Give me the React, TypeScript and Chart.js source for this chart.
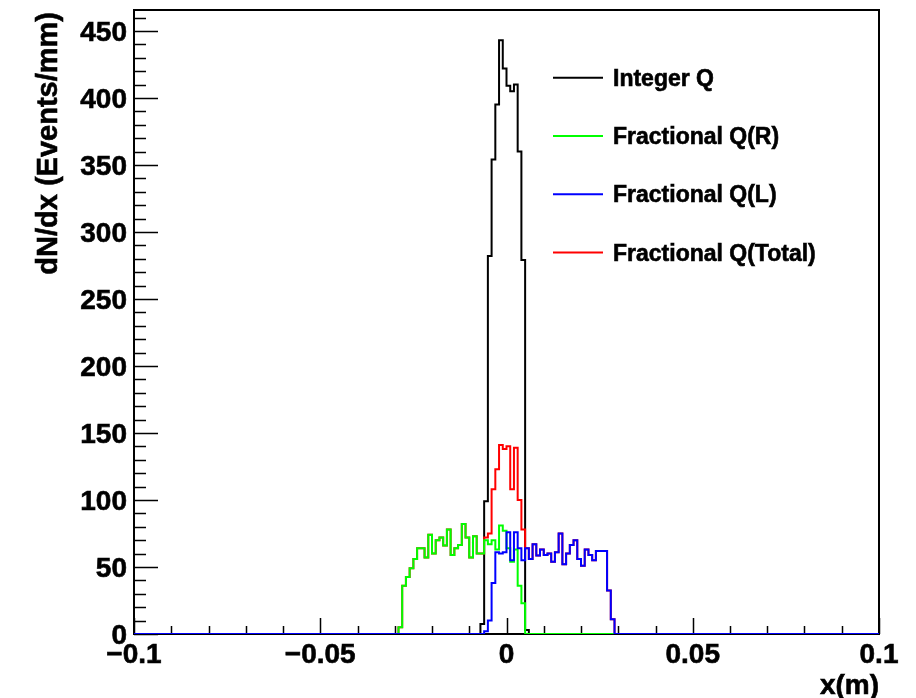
import React, { useEffect, useRef } from "react";
import { Chart, registerables } from "chart.js";

Chart.register(...registerables);

// ---- data (bin width 1 mm, values in Events/mm; start = lower edge of first bin in mm) ----
const integerQStart = -7;
const integerQ = [7.5, 99, 282, 354, 395, 443, 422, 409, 405, 410, 360, 279, 3];

const fracRStart = -29;
const fracR = [
  5, 36, 42.5, 49, 56, 64, 64, 57, 74, 60, 70, 72, 66, 78, 59, 64, 66.5, 82, 72, 57, 73, 60, 60,
  70, 67, 70, 63, 81, 77, 64, 54, 63, 36, 23,
];

const fracLStart = -6;
const fracL = [
  2, 10, 38, 61, 60, 61, 76, 55, 76, 64, 55, 64, 56, 67, 58.6, 63, 59, 60, 54, 61, 75, 52, 60,
  66.5, 70, 56, 51, 63, 59, 55, 62, 62, 62, 32.5, 11,
];

const fracTotalStart = -29;
const fracTotal = [
  5, 36, 42.5, 49, 56, 64, 64, 57, 74, 60, 70, 72, 66, 78, 59, 64, 66.5, 82, 72, 57, 73, 60, 60,
  72, 75, 108, 123, 141, 138, 140, 108, 139, 100, 78,
  64, 56, 67, 58.6, 63, 59, 60, 54, 61, 75, 52, 60, 66.5, 70, 56, 51, 63, 59, 55, 62, 62, 62, 32.5, 11,
];

const seriesNames = ["Integer Q", "Fractional Q(R)", "Fractional Q(L)", "Fractional Q(Total)"];
const seriesColors = ["#000000", "#00ff00", "#0000ff", "#ff0000"];

const X_MIN = -0.1;
const X_MAX = 0.1;
const Y_MAX = 465.6;
const BIN_MIN_MM = -100;
const BIN_MAX_MM = 100;

const xMajorTicks = [-0.1, -0.05, 0, 0.05, 0.1];
const xTickLabels = ["\u22120.1", "\u22120.05", "0", "0.05", "0.1"];
const xMinorStep = 0.01;
const yMajorTicks = [0, 50, 100, 150, 200, 250, 300, 350, 400, 450];
const yTickLabels = ["0", "50", "100", "150", "200", "250", "300", "350", "400", "450"];
const yMinorStep = 10;

const xTitle = "x(m)";
const yTitle = "dN/dx (Events/mm)";

const FONT = '"Liberation Sans", Arial, Helvetica, sans-serif';

function histPoints(start: number, values: number[]) {
  const pts: { x: number; y: number }[] = [];
  for (let n = BIN_MIN_MM; n < BIN_MAX_MM; n++) {
    const i = n - start;
    const v = i >= 0 && i < values.length ? values[i] : 0;
    pts.push({ x: n / 1000, y: v });
  }
  pts.push({ x: BIN_MAX_MM / 1000, y: 0 });
  return pts;
}

function heavyText(ctx: CanvasRenderingContext2D, t: string, x: number, y: number) {
  ctx.fillText(t, x, y);
  ctx.lineWidth = 0.6;
  ctx.strokeStyle = "#000";
  ctx.strokeText(t, x, y);
}

const rootStyle = {
  id: "rootStyle",
  beforeDatasetsDraw(chart: any) {
    const ctx = chart.ctx;
    const xs = chart.scales.x;
    const ys = chart.scales.y;
    const { left, right, top, bottom } = chart.chartArea;
    ctx.save();
    ctx.strokeStyle = "#000";
    ctx.lineWidth = 1.5;
    ctx.beginPath();
    for (let v = 0; v <= Y_MAX + 1e-9; v += yMinorStep) {
      const p = Math.round(ys.getPixelForValue(v)) + 0.5;
      const major = yMajorTicks.includes(v);
      ctx.moveTo(left, p);
      ctx.lineTo(left + (major ? 24 : 12), p);
    }
    for (let k = 0; k <= Math.round((X_MAX - X_MIN) / xMinorStep); k++) {
      const v = X_MIN + k * xMinorStep;
      const p = Math.round(xs.getPixelForValue(v)) + 0.5;
      const major = xMajorTicks.some((t) => Math.abs(t - v) < 1e-9);
      ctx.moveTo(p, bottom);
      ctx.lineTo(p, bottom - (major ? 16 : 8));
    }
    ctx.stroke();
    ctx.lineWidth = 2;
    ctx.strokeRect(left, top, right - left, bottom - top);
    ctx.restore();
  },
  afterDatasetsDraw(chart: any) {
    const ctx = chart.ctx;
    const xs = chart.scales.x;
    const ys = chart.scales.y;
    const { left, right, top, bottom } = chart.chartArea;
    ctx.save();
    ctx.fillStyle = "#000";
    ctx.font = `bold 28px ${FONT}`;
    ctx.textBaseline = "alphabetic";
    ctx.textAlign = "right";
    yMajorTicks.forEach((v, i) => {
      heavyText(ctx, yTickLabels[i], left - 7, ys.getPixelForValue(v) + 10);
    });
    ctx.textAlign = "center";
    xMajorTicks.forEach((v, i) => {
      heavyText(ctx, xTickLabels[i], xs.getPixelForValue(v), bottom + 29);
    });
    ctx.textAlign = "right";
    heavyText(ctx, xTitle, right, bottom + 60);
    ctx.save();
    ctx.font = `bold 29px ${FONT}`;
    ctx.translate(57, top + 2);
    ctx.rotate(-Math.PI / 2);
    ctx.textAlign = "right";
    heavyText(ctx, yTitle, 0, 0);
    ctx.restore();
    ctx.font = `bold 23px ${FONT}`;
    ctx.textAlign = "left";
    seriesNames.forEach((name, i) => {
      const y = 77.7 + i * 58.3;
      ctx.strokeStyle = seriesColors[i];
      ctx.lineWidth = 2;
      ctx.beginPath();
      ctx.moveTo(553, y);
      ctx.lineTo(603, y);
      ctx.stroke();
      heavyText(ctx, name, 613, y + 8);
    });
    ctx.restore();
  },
};

export default function App() {
  const ref = useRef<HTMLCanvasElement>(null);
  useEffect(() => {
    if (!ref.current) return;
    const series = [
      { start: integerQStart, values: integerQ, order: 3 },
      { start: fracRStart, values: fracR, order: 1 },
      { start: fracLStart, values: fracL, order: 0 },
      { start: fracTotalStart, values: fracTotal, order: 2 },
    ];
    const chart = new Chart(ref.current, {
      type: "line",
      data: {
        datasets: series.map((s, i) => ({
          label: seriesNames[i],
          data: histPoints(s.start, s.values),
          borderColor: seriesColors[i],
          backgroundColor: seriesColors[i],
          borderWidth: 2,
          pointRadius: 0,
          stepped: true,
          tension: 0,
          fill: false,
          order: s.order,
        })),
      },
      options: {
        responsive: false,
        animation: false,
        devicePixelRatio: 1,
        events: [],
        layout: { padding: { left: 134, right: 37, top: 10, bottom: 64 } },
        plugins: { legend: { display: false }, tooltip: { enabled: false } },
        scales: {
          x: { type: "linear", min: X_MIN, max: X_MAX, display: false },
          y: { type: "linear", min: 0, max: Y_MAX, display: false },
        },
      },
      plugins: [rootStyle],
    } as any);
    return () => chart.destroy();
  }, []);
  return (
    <div style={{ position: "fixed", left: 0, top: 0, width: 916, height: 698, background: "#fff" }}>
      <canvas ref={ref} width={916} height={698} style={{ display: "block", width: 916, height: 698 }} />
    </div>
  );
}
